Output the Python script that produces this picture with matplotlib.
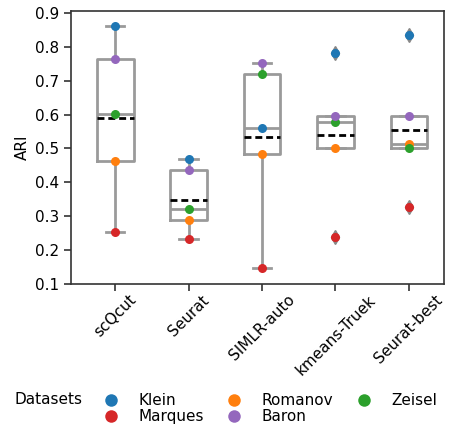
import numpy as np
import matplotlib
matplotlib.use("Agg")
import matplotlib.pyplot as plt
from matplotlib.lines import Line2D

# ARI values
methods = ["scQcut", "Seurat", "SIMLR-auto", "kmeans-Truek", "Seurat-best"]
klein = [0.861, 0.469, 0.561, 0.783, 0.834]
romanov = [0.463, 0.288, 0.485, 0.502, 0.513]
zeisel = [0.602, 0.320, 0.720, 0.577, 0.502]
marques = [0.254, 0.233, 0.147, 0.238, 0.326]
baron = [0.764, 0.435, 0.751, 0.595, 0.595]

datasets = ["Klein", "Romanov", "Zeisel", "Marques", "Baron"]
series = [klein, romanov, zeisel, marques, baron]
colors = ["#1f77b4", "#ff7f0e", "#2ca02c", "#d62728", "#9467bd"]

plt.rcParams["font.family"] = "DejaVu Sans"
plt.rcParams["font.size"] = 11

fig = plt.figure(figsize=(4.5, 4.25), dpi=100)
ax = fig.add_axes([0.158, 0.332, 0.829, 0.643])

per_method = np.array(series).T
pos = np.arange(len(methods))
gray = "#9a9a9a"
ax.boxplot(list(per_method), positions=pos, widths=0.5, showmeans=True, meanline=True,
           boxprops=dict(color=gray, lw=2),
           whiskerprops=dict(color=gray, lw=2),
           capprops=dict(color=gray, lw=2),
           medianprops=dict(color=gray, lw=2),
           meanprops=dict(color="black", lw=2, ls=(0, (2.5, 1.4))),
           flierprops=dict(marker="d", markerfacecolor="#888888", markeredgecolor="#888888", markersize=7),
           zorder=2)

# one dot per dataset on each method
for name, vals, c in zip(datasets, series, colors):
    ax.plot(pos, vals, ls="none", marker="o", ms=6.5, mew=0, color=c, zorder=4)

ax.set_xlim(-0.6, 4.48)
ax.set_ylim(0.1, 0.907)
ax.set_yticks(np.arange(0.1, 0.91, 0.1))
ax.set_xticks(pos)
ax.set_xticklabels(methods, rotation=45)
ax.set_ylabel("ARI")
for s in ax.spines.values():
    s.set_color("#333333")
    s.set_linewidth(1.2)
ax.tick_params(color="#333333", length=5, width=1.2)
ax.tick_params(axis="x", pad=1)

order = [0, 3, 1, 4, 2]
handles = [Line2D([], [], ls="none", marker="o", ms=9, mew=0, color=colors[i]) for i in order]
labels = [datasets[i] for i in order]
fig.legend(handles, labels, ncol=3, loc="upper left",
           bbox_to_anchor=(0.215, 1 - 387 / 425), bbox_transform=fig.transFigure,
           frameon=False, handlelength=1.0, handletextpad=1.3, columnspacing=1.5,
           labelspacing=0.05, borderaxespad=0)
fig.text(14 / 450, 1 - 399 / 425, "Datasets", va="center", ha="left")

fig.savefig("out.png", dpi=100)
